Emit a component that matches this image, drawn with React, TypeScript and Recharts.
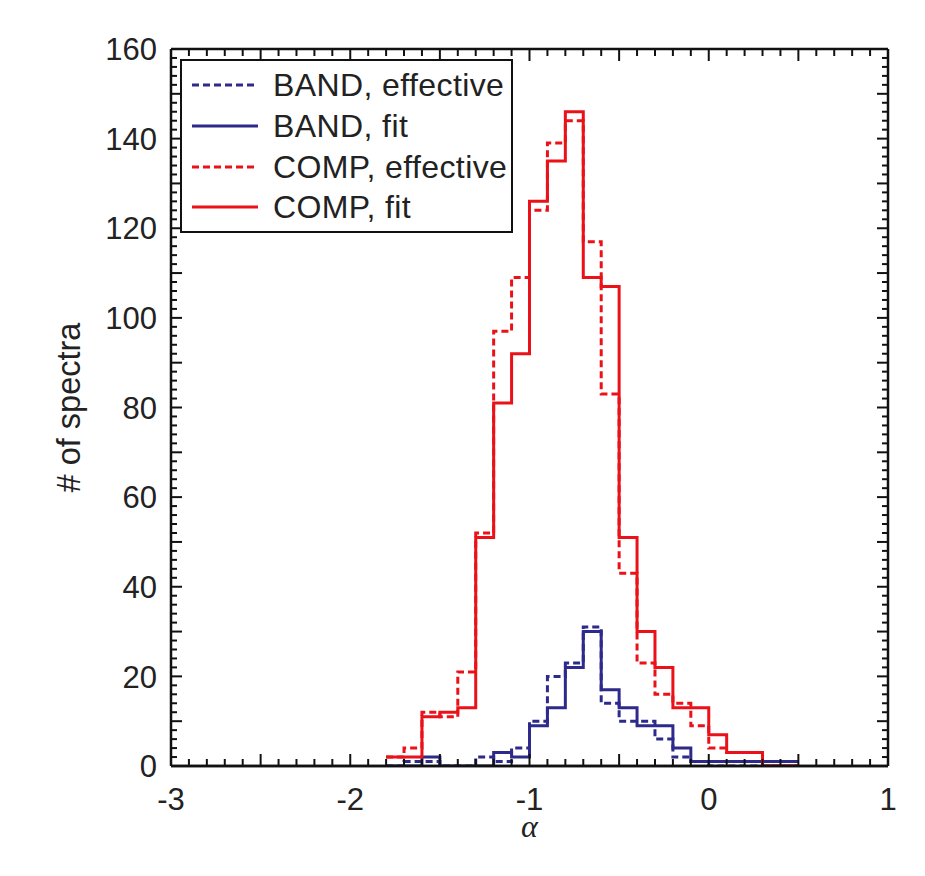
import React from "react";
import { LineChart, Line, XAxis, YAxis, Legend, ReferenceLine } from "recharts";

// histogram bin edges (bin width 0.1), last edge closes the final bin
const BIN_EDGES = [
  -1.8, -1.7, -1.6, -1.5, -1.4, -1.3, -1.2, -1.1, -1.0, -0.9, -0.8, -0.7,
  -0.6, -0.5, -0.4, -0.3, -0.2, -0.1, 0.0, 0.1, 0.2, 0.3, 0.4, 0.5,
];

// counts per bin, one per left edge
const BAND_EFFECTIVE = [0, 1, 1, 0, 0, 2, 1, 4, 10, 20, 23, 31, 14, 10, 10, 6, 2, 1, 0, 0, 0, 0, 0];
const BAND_FIT = [0, 0, 2, 0, 0, 0, 3, 2, 9, 13, 22, 30, 17, 13, 9, 9, 4, 1, 1, 1, 1, 1, 1];
const COMP_EFFECTIVE = [2, 4, 12, 11, 21, 52, 97, 109, 124, 139, 144, 117, 83, 43, 23, 16, 14, 9, 4, 3, 3, 0, 0];
const COMP_FIT = [2, 2, 11, 12, 13, 51, 81, 92, 126, 135, 146, 109, 107, 51, 30, 22, 13, 13, 7, 3, 3, 0, 0];

const X_LABELS = [-3, -2, -1, 0, 1];
const Y_LABELS = [0, 20, 40, 60, 80, 100, 120, 140, 160];

const BLUE = "#2e2a8c";
const RED = "#ea1218";
const FONT = "'Liberation Sans', Arial, sans-serif";

const SERIES = [
  { key: "bandEff", name: "BAND, effective", color: BLUE, dash: "7 4" },
  { key: "bandFit", name: "BAND, fit", color: BLUE, dash: undefined },
  { key: "compEff", name: "COMP, effective", color: RED, dash: "7 4" },
  { key: "compFit", name: "COMP, fit", color: RED, dash: undefined },
];

const data = BIN_EDGES.map((x, i) => {
  const j = Math.min(i, COMP_FIT.length - 1);
  return {
    x,
    bandEff: BAND_EFFECTIVE[j],
    bandFit: BAND_FIT[j],
    compEff: COMP_EFFECTIVE[j],
    compFit: COMP_FIT[j],
  };
});

// minor tick positions for the boxed axes
const X_TICKS = Array.from({ length: 41 }, (_, i) => Math.round((-3 + i * 0.1) * 10) / 10);
const Y_TICKS = Array.from({ length: 81 }, (_, i) => i * 2);

const near = (a: number, b: number) => Math.abs(a - b) < 1e-6;
const isHalf = (v: number) => near(v * 2, Math.round(v * 2));

function BottomTick({ x, y, payload }: any) {
  const v = payload.value;
  const len = isHalf(v) ? 12 : 7;
  const labeled = X_LABELS.some((l) => near(l, v));
  return (
    <g>
      <line x1={x} x2={x} y1={y} y2={y - len} stroke="#111" strokeWidth={2} />
      {labeled && (
        <text x={x} y={y + 44} textAnchor="middle" fontSize={31} fontFamily={FONT} fill="#222">
          {Math.round(v)}
        </text>
      )}
    </g>
  );
}

function TopTick({ x, y, payload }: any) {
  const len = isHalf(payload.value) ? 12 : 7;
  return <line x1={x} x2={x} y1={y} y2={y + len} stroke="#111" strokeWidth={2} />;
}

function LeftTick({ x, y, payload }: any) {
  const v = payload.value;
  const len = v % 10 === 0 ? 11 : 6;
  return (
    <g>
      <line x1={x} x2={x + len} y1={y} y2={y} stroke="#111" strokeWidth={2} />
      {Y_LABELS.includes(v) && (
        <text x={x - 14} y={y} dy="0.36em" textAnchor="end" fontSize={31} fontFamily={FONT} fill="#222">
          {v}
        </text>
      )}
    </g>
  );
}

function RightTick({ x, y, payload }: any) {
  const len = payload.value % 10 === 0 ? 11 : 6;
  return <line x1={x} x2={x - len} y1={y} y2={y} stroke="#111" strokeWidth={2} />;
}

function YTitle({ viewBox }: any) {
  const cx = viewBox.x + 60;
  const cy = viewBox.y + viewBox.height / 2;
  return (
    <text
      x={cx}
      y={cy}
      dy="0.36em"
      textAnchor="middle"
      transform={`rotate(-90 ${cx} ${cy})`}
      fontSize={32.5}
      fontFamily={FONT}
      fill="#222"
    >
      # of spectra
    </text>
  );
}

function XTitle({ viewBox }: any) {
  return (
    <text
      x={viewBox.x + viewBox.width / 2}
      y={viewBox.y + 71}
      textAnchor="middle"
      fontSize={32}
      fontStyle="italic"
      fontFamily="'Liberation Serif', 'DejaVu Serif', serif"
      fill="#222"
    >
      α
    </text>
  );
}

function LegendBox() {
  return (
    <div
      style={{
        width: 333,
        height: 174,
        boxSizing: "border-box",
        border: "2px solid #111",
        background: "#fff",
        paddingTop: 4,
        fontFamily: FONT,
      }}
    >
      {SERIES.map((s) => (
        <div key={s.key} style={{ display: "flex", alignItems: "center", height: 40.7 }}>
          <svg width={66} height={6} style={{ marginLeft: 10, display: "block" }}>
            <line x1={0} x2={66} y1={3} y2={3} stroke={s.color} strokeWidth={3} strokeDasharray={s.dash} />
          </svg>
          <span
            style={{
              marginLeft: 15,
              fontSize: 32,
              letterSpacing: 0.4,
              lineHeight: 1,
              color: "#222",
              whiteSpace: "nowrap",
            }}
          >
            {s.name}
          </span>
        </div>
      ))}
    </div>
  );
}

export default function App() {
  return (
    <div style={{ width: 910, height: 860, fontFamily: FONT }}>
      <LineChart width={910} height={860} data={data} margin={{ top: 0, right: 0, bottom: 0, left: 0 }}>
        <XAxis
          xAxisId="b"
          dataKey="x"
          type="number"
          domain={[-3, 1]}
          ticks={X_TICKS}
          interval={0}
          allowDataOverflow
          height={102}
          tickSize={0}
          tickMargin={0}
          tickLine={false}
          tick={<BottomTick />}
          axisLine={{ stroke: "#111", strokeWidth: 2.5 }}
          label={XTitle}
        />
        <XAxis
          xAxisId="t"
          dataKey="x"
          orientation="top"
          type="number"
          domain={[-3, 1]}
          ticks={X_TICKS}
          interval={0}
          allowDataOverflow
          height={41}
          tickSize={0}
          tickMargin={0}
          tickLine={false}
          tick={<TopTick />}
          axisLine={{ stroke: "#111", strokeWidth: 2.5 }}
        />
        <YAxis
          yAxisId="l"
          type="number"
          domain={[0, 160]}
          ticks={Y_TICKS}
          interval={0}
          allowDataOverflow
          width={163}
          tickSize={0}
          tickMargin={0}
          tickLine={false}
          tick={<LeftTick />}
          axisLine={{ stroke: "#111", strokeWidth: 2.5 }}
          label={YTitle}
        />
        <YAxis
          yAxisId="r"
          orientation="right"
          type="number"
          domain={[0, 160]}
          ticks={Y_TICKS}
          interval={0}
          allowDataOverflow
          width={30}
          tickSize={0}
          tickMargin={0}
          tickLine={false}
          tick={<RightTick />}
          axisLine={{ stroke: "#111", strokeWidth: 2.5 }}
        />
        {SERIES.map((s) => (
          <Line
            key={s.key}
            xAxisId="b"
            yAxisId="l"
            dataKey={s.key}
            name={s.name}
            type="stepAfter"
            stroke={s.color}
            strokeWidth={3}
            strokeDasharray={s.dash}
            dot={false}
            activeDot={false}
            isAnimationActive={false}
          />
        ))}
        <ReferenceLine xAxisId="b" yAxisId="l" y={0} stroke="#111" strokeWidth={2.5} />
        <Legend
          layout="vertical"
          align="center"
          verticalAlign="middle"
          wrapperStyle={{ left: 172, top: 51, width: 333, height: 174 }}
          content={LegendBox}
        />
      </LineChart>
    </div>
  );
}
